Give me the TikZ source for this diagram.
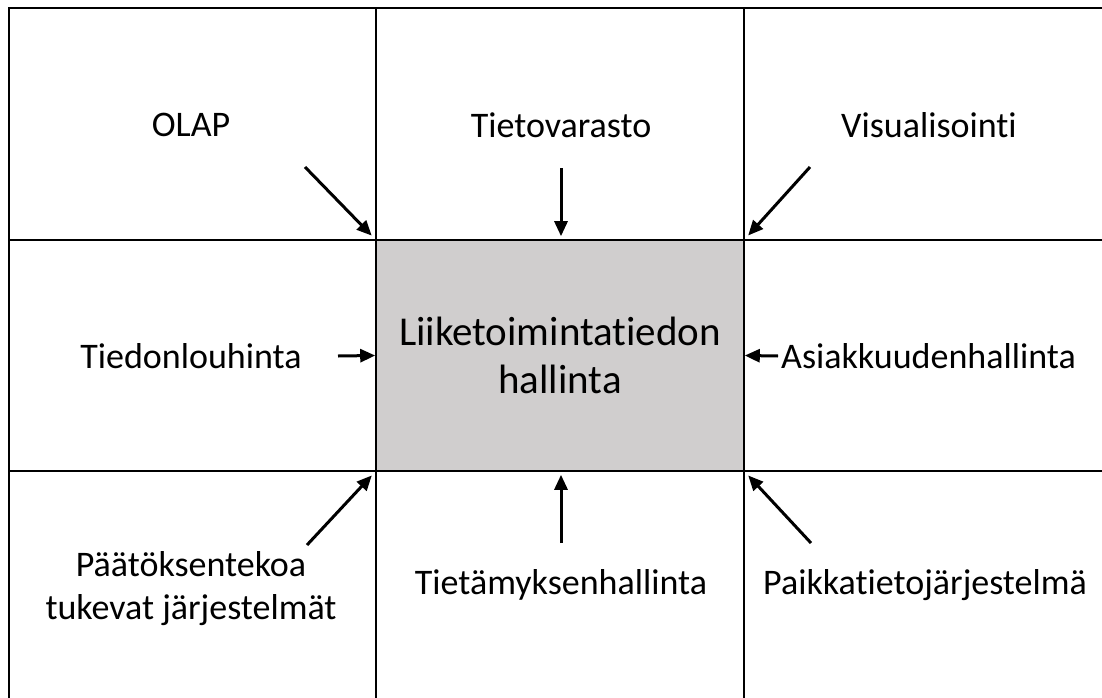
\documentclass[tikz,border=0pt]{standalone}
\usepackage{fontspec}
\setmainfont[Ligatures={NoCommon}]{Carlito}
\usetikzlibrary{arrows.meta}
\definecolor{coregray}{RGB}{208,206,206}
% split t and i so no ligature is formed
\newcommand{\tii}{t\kern0pt i}
\begin{document}
\begin{tikzpicture}[x=1pt, y=-1pt,
    grid/.style = {line width=1.6pt},
    lbl/.style = {inner sep=0pt, align=center, font=\fontsize{36}{43}\selectfont},
    core/.style = {draw, line width=1.6pt, fill=coregray, inner sep=0pt,
                   minimum width=368pt, minimum height=231pt, align=center,
                   font=\fontsize{41}{48}\selectfont},
    arr/.style = {-{Triangle[length=15pt, width=13pt]}, line width=3pt}]
  \useasboundingbox (0,0) rectangle (1102,698);
  \node[core] (core) at (560,355.5) {Liiketoiminta\tii{}edon\\hallinta};
  \draw[grid] (9,698) -- (9,8) -- (1102,8);
  \draw[grid] (9,240) -- (1102,240);
  \draw[grid] (9,471) -- (1102,471);
  \draw[grid] (376,8) -- (376,698);
  \draw[grid] (744,8) -- (744,698);
  \node[lbl] (olap) at (191,125) {OLAP};
  \node[lbl] (varasto) at (561,125) {Tietovarasto};
  \node[lbl] (visual) at (929,125) {Visualisoin\tii};
  \node[lbl] (louhinta) at (191,356) {Tiedonlouhinta};
  \node[lbl, anchor=west] (asiakas) at (781,356) {Asiakkuudenhallinta};
  \node[lbl] (paatos) at (191,589) {Päätöksentekoa\\tukevat järjestelmät};
  \node[lbl] (tietamys) at (561,585) {Tietämyksenhallinta};
  \node[lbl] (paikka) at (925,585) {Paikka\tii{}etojärjestelmä};
  \coordinate (olapTail) at (305,167);
  \coordinate (varastoTail) at (561,168);
  \coordinate (visualTail) at (810,167);
  \coordinate (louhintaTail) at (338,356);
  \coordinate (asiakasTail) at (778,356);
  \coordinate (paatosTail) at (307,545);
  \coordinate (tietamysTail) at (561,543);
  \coordinate (paikkaTail) at (811,543);
  \draw[arr, shorten >=5pt] (olapTail) -- (core.north west);
  \draw[arr, shorten >=3pt] (varastoTail) -- (varastoTail |- core.north);
  \draw[arr, shorten >=5pt] (visualTail) -- (core.north east);
  \draw[arr] (louhintaTail) -- (core.west);
  \draw[arr] (asiakasTail) -- (core.east);
  \draw[arr, shorten >=5pt] (paatosTail) -- (core.south west);
  \draw[arr, shorten >=3pt] (tietamysTail) -- (tietamysTail |- core.south);
  \draw[arr, shorten >=5pt] (paikkaTail) -- (core.south east);
\end{tikzpicture}
\end{document}
